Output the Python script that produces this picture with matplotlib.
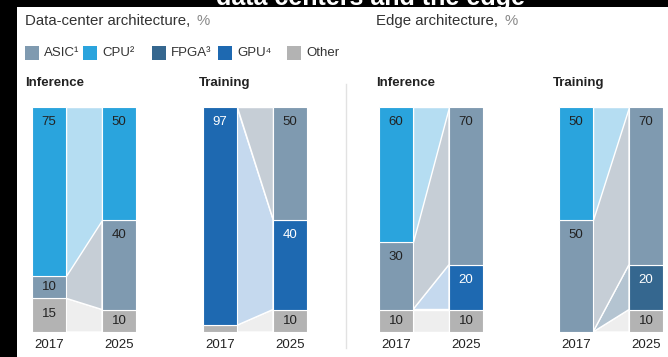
import matplotlib
matplotlib.use("Agg")
import numpy as np
import matplotlib.pyplot as plt
from matplotlib.patches import Polygon, Rectangle
from matplotlib.lines import Line2D

plt.rcParams['font.family'] = ['Liberation Sans', 'DejaVu Sans']

W, H = 668, 357

# categories in stacking order, bottom -> top
categories = ['Other', 'FPGA', 'GPU', 'ASIC', 'CPU']
years = ['2017', '2025']

legend_keys = ['ASIC', 'CPU', 'FPGA', 'GPU', 'Other']
legend_labels = ['ASIC¹', 'CPU²', 'FPGA³', 'GPU⁴', 'Other']

# share of each category, %, same order as `categories`
dc_inference_2017 = [15, 0, 0, 10, 75]
dc_inference_2025 = [10, 0, 0, 40, 50]
dc_training_2017 = [3, 0, 97, 0, 0]
dc_training_2025 = [10, 0, 40, 50, 0]
edge_inference_2017 = [10, 0, 0, 30, 60]
edge_inference_2025 = [10, 0, 20, 70, 0]
edge_training_2017 = [0, 0, 0, 50, 50]
edge_training_2025 = [10, 20, 0, 70, 0]

bar_colors = {'ASIC': '#7f9ab0', 'CPU': '#2aa4dd', 'FPGA': '#35678f',
              'GPU': '#1e69b1', 'Other': '#b3b3b3'}
band_colors = {'ASIC': '#c6ced6', 'CPU': '#b5ddf2', 'FPGA': '#b4c4d1',
               'GPU': '#c5d9ee', 'Other': '#eeeeee'}
label_colors = {'ASIC': '#222222', 'CPU': '#222222', 'FPGA': 'white',
                'GPU': 'white', 'Other': '#222222'}


def px(x, y):
    return x / W, 1 - y / H


fig = plt.figure(figsize=(W / 100, H / 100), dpi=100)
fig.patch.set_facecolor('white')

BW = 0.485


def draw_panel(left, v17, v25):
    ax = fig.add_axes([left / W, (H - 332) / H, 104 / W, 225 / H])
    ax.set_xlim(-BW / 2, 1 + BW / 2)
    ax.set_ylim(0, 100)
    ax.axis('off')

    c17 = np.concatenate([[0], np.cumsum(v17)])
    c25 = np.concatenate([[0], np.cumsum(v25)])
    xa, xb = BW / 2, 1 - BW / 2

    # flows between the two years
    for i, cat in enumerate(categories):
        if v17[i] == 0 and v25[i] == 0:
            continue
        ax.add_patch(Polygon([(xa, c17[i]), (xa, c17[i + 1]),
                              (xb, c25[i + 1]), (xb, c25[i])],
                             closed=True, facecolor=band_colors[cat],
                             edgecolor='white', linewidth=1, zorder=1))

    for x, vals, cum, yr in [(0, v17, c17, years[0]), (1, v25, c25, years[1])]:
        for i, cat in enumerate(categories):
            v = vals[i]
            if v == 0:
                continue
            ax.bar(x, v, bottom=cum[i], width=BW, color=bar_colors[cat],
                   edgecolor='white', linewidth=0.8, zorder=2)
            if v >= 5:
                top = cum[i + 1]
                ax.text(x, top - min(v / 2, 6.8), str(v), ha='center',
                        va='center', fontsize=9.5, color=label_colors[cat],
                        zorder=3)
        ax.text(x, -5.8, yr, ha='center', va='center', fontsize=9.5,
                color='#222222', clip_on=False)
    return ax


draw_panel(32, dc_inference_2017, dc_inference_2025)
draw_panel(203, dc_training_2017, dc_training_2025)
draw_panel(379, edge_inference_2017, edge_inference_2025)
draw_panel(559, edge_training_2017, edge_training_2025)

renderer = fig.canvas.get_renderer()

# section headings with the grey unit
for x, title in [(25, 'Data-center architecture,'), (376, 'Edge architecture,')]:
    t = fig.text(*px(x, 21), title, fontsize=10.8, color='#333333',
                 ha='left', va='center')
    bb = t.get_window_extent(renderer)
    fig.text(bb.x1 / W + 6 / W, px(0, 21)[1], '%', fontsize=10.8,
             color='#8a8a8a', ha='left', va='center')

# legend
sq_x = [25, 83, 152, 218, 287]
for key, lab, sx in zip(legend_keys, legend_labels, sq_x):
    fig.add_artist(Rectangle(px(sx, 60), 14 / W, 14 / H,
                             transform=fig.transFigure,
                             facecolor=bar_colors[key], edgecolor='none'))
    fig.text(*px(sx + 19, 53), lab, fontsize=9.5, color='#333333',
             ha='left', va='center')

# panel headings
for x, name in [(25, 'Inference'), (199, 'Training'),
                (376, 'Inference'), (553, 'Training')]:
    fig.text(*px(x, 83), name, fontsize=9.5, fontweight='bold',
             color='#222222', ha='left', va='center')

# divider between data-center and edge
fig.add_artist(Line2D([346 / W, 346 / W], [px(0, 84)[1], px(0, 348)[1]],
                      transform=fig.transFigure, color='#e2e2e2',
                      linewidth=1))

# dark frame with the heading running off the top
fig.add_artist(Rectangle((0, 0), 17 / W, 1, transform=fig.transFigure,
                         facecolor='black', edgecolor='none'))
band = fig.add_axes([0, 1 - 7 / H, 1, 7 / H])
band.set_facecolor('black')
band.set_xticks([])
band.set_yticks([])
for s in band.spines.values():
    s.set_visible(False)
band.set_xlim(0, W)
band.set_ylim(7, 0)
band.text(370, 5, 'data centers and the edge', ha='center',
          va='baseline', fontsize=18, fontweight='bold', color='white',
          clip_on=True)

fig.savefig('out.png', dpi=100, facecolor='white')
